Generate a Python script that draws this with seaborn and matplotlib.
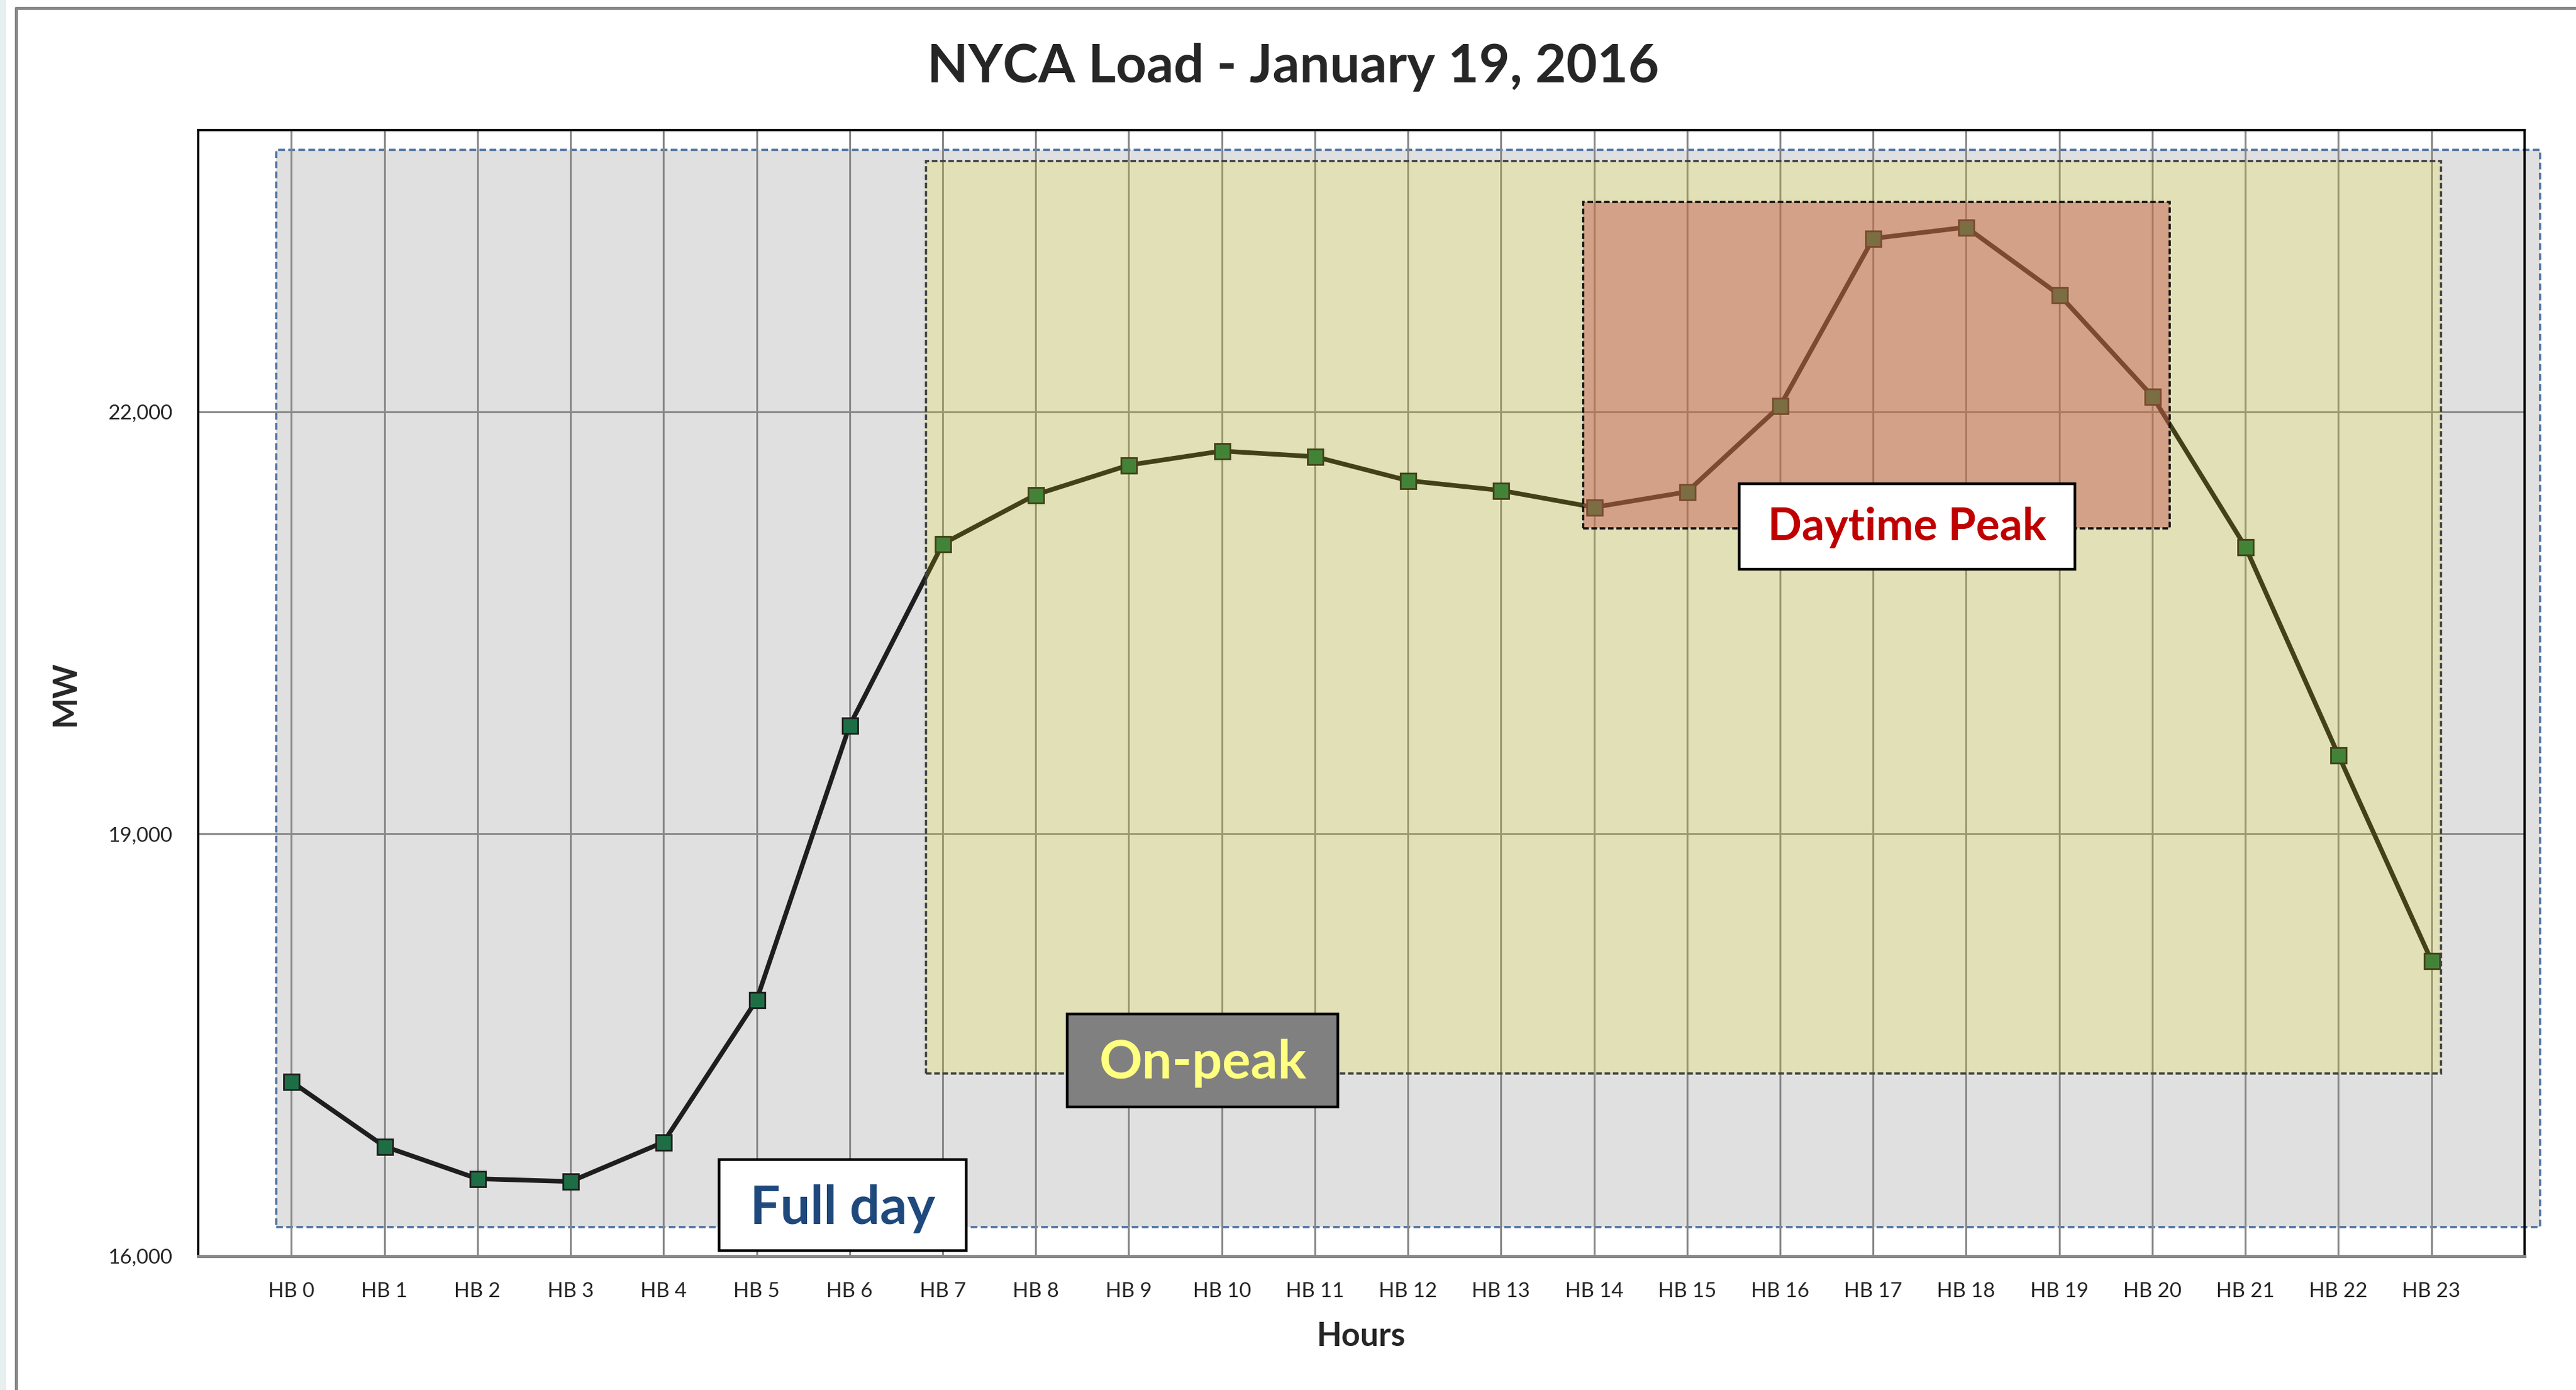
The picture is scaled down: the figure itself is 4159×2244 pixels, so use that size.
import pandas as pd
import matplotlib.pyplot as plt
from matplotlib.patches import Rectangle
from matplotlib.lines import Line2D
from matplotlib.ticker import FuncFormatter
import seaborn as sns

sns.set_style("white")
plt.rcParams['font.family'] = ['Lato', 'DejaVu Sans']

# hourly NYCA load, MW
hours = list(range(24))
hour_labels = ["HB %d" % h for h in hours]
load_mw = [17240, 16780, 16550, 16530, 16810, 17820, 19770, 21060,
           21410, 21620, 21720, 21680, 21510, 21440, 21320, 21430,
           22040, 23230, 23310, 22830, 22110, 21040, 19560, 18100]
y_ticks = [16000, 19000, 22000]

# shaded periods: (x0, x1, y0, y1) in hour / MW units
full_day = (-0.16, 24.17, 16206, 23859)
on_peak = (6.82, 23.1, 17297, 23780)
daytime_peak = (13.88, 20.19, 21169, 23491)

df = pd.DataFrame({"hour": hours, "load": load_mw})

W, H = 4159, 2244
fig = plt.figure(figsize=(W / 200, H / 200), dpi=200)
ax = fig.add_axes([0.077, 0.0963, 0.903, 0.8101])

# slide frame
fig.add_artist(Rectangle((0, 0), 10 / W, 1, transform=fig.transFigure,
                         color="#E6F0EE", lw=0))
fig.add_artist(Line2D([26 / W, 1], [1 - 12.5 / H] * 2, color="#888888", lw=1.8))
fig.add_artist(Line2D([26 / W] * 2, [0, 1 - 12.5 / H], color="#888888", lw=1.8))

sns.lineplot(data=df, x="hour", y="load", ax=ax, color="#1E1E1E", lw=2.7,
             marker="s", markersize=9, markerfacecolor="#1E6E45",
             markeredgecolor="#1E1E1E", markeredgewidth=1.0, zorder=2)


def region(r, face, edge, ls, lw, z, clip=True):
    x0, x1, y0, y1 = r
    p = Rectangle((x0, y0), x1 - x0, y1 - y0, facecolor=face, edgecolor=edge,
                  linestyle=ls, lw=lw, zorder=z, clip_on=clip)
    ax.add_patch(p)


region(full_day, "#E0E0E0", "#4F73A3", (0, (3, 1.5)), 1.3, 0.2, clip=False)
region(on_peak, (240 / 255, 229 / 255, 0, 0.18), "#404040", (0, (2.5, 1.2)), 1.3, 3)
region(daytime_peak, (193 / 255, 85 / 255, 79 / 255, 0.45), "#111111", (0, (2.5, 1.2)), 1.3, 4)


def label_box(x0, x1, y0, y1, text, base_y, fc, tc, size):
    ax.add_patch(Rectangle((x0, y0), x1 - x0, y1 - y0, facecolor=fc,
                           edgecolor="black", lw=1.6, zorder=6))
    ax.text((x0 + x1) / 2, base_y, text, ha="center", va="baseline",
            color=tc, fontsize=size, fontweight="bold", zorder=7)


label_box(4.60, 7.25, 16040, 16686, "Full day", 16229, "white", "#1F497D", 31)
label_box(8.34, 11.25, 17059, 17719, "On-peak", 17262, "#808080", "#FFFF80", 31)
label_box(15.56, 19.17, 20879, 21486, "Daytime Peak", 21088, "white", "#C00000", 26)

ax.set_xlim(-1, 24.0)
ax.set_ylim(16000, 24000)
ax.set_xticks(hours, hour_labels)
ax.set_yticks(y_ticks)
ax.yaxis.set_major_formatter(FuncFormatter(lambda v, p: "{:,.0f}".format(v)))
ax.tick_params(axis="both", length=0, labelsize=12, pad=15)

ax.set_axisbelow(True)
ax.grid(True, color="#888888", lw=1.1)

for s in ["left", "top", "right"]:
    ax.spines[s].set_color("black")
    ax.spines[s].set_linewidth(1.3)
ax.spines["bottom"].set_color("#888888")
ax.spines["bottom"].set_linewidth(1.8)

ax.set_xlabel("Hours", fontsize=19, fontweight="bold", labelpad=12)
ax.set_ylabel("MW", fontsize=19, fontweight="bold", labelpad=16)
fig.text(0.502, 1 - 133 / H, "NYCA Load - January 19, 2016", ha="center",
         va="baseline", fontsize=31, fontweight="bold")

fig.savefig("out.png", dpi=200, facecolor="white")
